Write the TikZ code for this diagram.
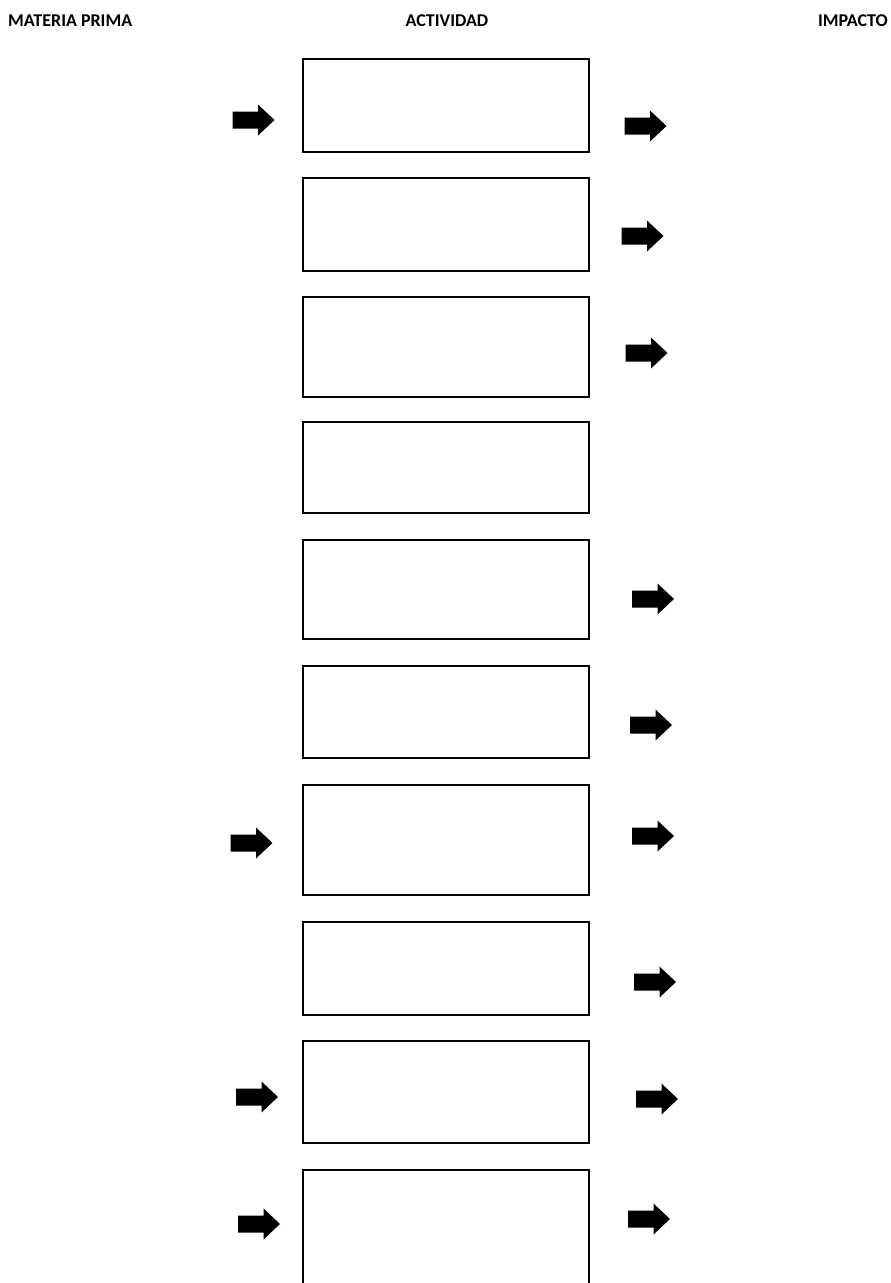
\documentclass[tikz,border=0pt]{standalone}
\usepackage{fontspec}
\setmainfont{Carlito}
\tikzset{
  box/.style={draw=black, line width=2pt, minimum width=286pt, inner sep=0pt, fill=white},
  hdr/.style={font=\bfseries\fontsize{18}{21}\selectfont, inner sep=0pt, anchor=base},
  barrow/.pic={\fill[black] (-21,-8.5) -- (4.5,-8.5) -- (4.5,-15.5) -- (21,0) -- (4.5,15.5) -- (4.5,8.5) -- (-21,8.5) -- cycle;}
}
\begin{document}
\begin{tikzpicture}[x=1pt,y=-1pt]
\useasboundingbox (0,0) rectangle (891,1283);
\clip (0,0) rectangle (891,1283);
% headers
\node[hdr, anchor=base west] (h1) at (8,26) {MATERIA PRIMA};
\node[hdr] (h2) at (447,26) {ACTIVIDAD};
\node[hdr, anchor=base east] (h3) at (888,26) {IMPACTO};
% boxes
\node[box, minimum height=93pt]  (b1)  at (446,105.5) {};
\node[box, minimum height=93pt]  (b2)  at (446,224.5) {};
\node[box, minimum height=100pt] (b3)  at (446,347) {};
\node[box, minimum height=91pt]  (b4)  at (446,467.5) {};
\node[box, minimum height=99pt]  (b5)  at (446,589.5) {};
\node[box, minimum height=92pt]  (b6)  at (446,712) {};
\node[box, minimum height=110pt] (b7)  at (446,840) {};
\node[box, minimum height=93pt]  (b8)  at (446,968.5) {};
\node[box, minimum height=102pt] (b9)  at (446,1092) {};
\node[box, minimum height=130pt] (b10) at (446,1235) {};
% left arrows
\pic at (253.5,120) {barrow};
\pic at (251.5,843) {barrow};
\pic at (257,1097) {barrow};
\pic at (259,1224) {barrow};
% right arrows
\pic at (645.5,126) {barrow};
\pic at (642.5,236) {barrow};
\pic at (646.5,353) {barrow};
\pic at (653,599) {barrow};
\pic at (651,725) {barrow};
\pic at (653,836) {barrow};
\pic at (655,982) {barrow};
\pic at (657,1099) {barrow};
\pic at (649,1219) {barrow};
\end{tikzpicture}
\end{document}
